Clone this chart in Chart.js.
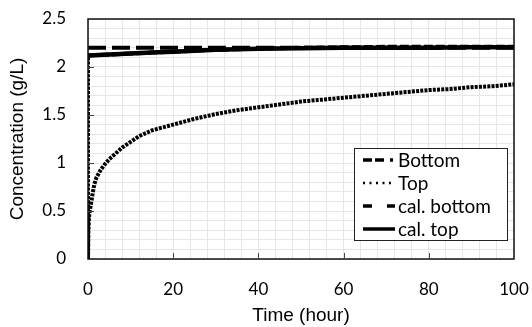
<!DOCTYPE html>
<html>
<head>
<meta charset="utf-8">
<script src="https://cdn.jsdelivr.net/npm/chart.js@4"></script>
<style>
  html, body { margin: 0; padding: 0; background: #fff; }
  #wrap { width: 532px; height: 327px; }
</style>
</head>
<body>
<div id="wrap"><canvas id="chart" width="532" height="327"></canvas></div>
<script>
// measured top concentration (dotted)
const topHours = [0, 0, 0.05, 0.1, 0.2, 0.3, 0.5, 0.8, 1, 1.5, 2, 3, 4, 5, 6, 8, 10, 12, 15, 20, 25, 30, 35, 40, 45, 50, 55, 60, 65, 70, 75, 80, 85, 90, 95, 100];
const topValues = [2.1, 0, 0.15, 0.3, 0.4, 0.47, 0.52, 0.6, 0.66, 0.78, 0.85, 0.93, 0.99, 1.04, 1.08, 1.16, 1.22, 1.28, 1.34, 1.40, 1.46, 1.51, 1.55, 1.58, 1.61, 1.64, 1.66, 1.68, 1.70, 1.72, 1.74, 1.76, 1.77, 1.79, 1.80, 1.82];

// measured bottom concentration
const bottomHours = [0, 5, 10, 15, 20, 25, 30, 35, 40, 50, 60, 70, 80, 90, 100];
const bottomValues = [2.12, 2.13, 2.14, 2.15, 2.16, 2.17, 2.18, 2.185, 2.19, 2.2, 2.205, 2.21, 2.21, 2.21, 2.21];

// calculated values
const calHours = [0, 100];
const calBottomValues = [2.2, 2.2];
const calTopHours = [0, 5, 10, 15, 20, 25, 30, 35, 40, 50, 60, 70, 80, 90, 100];
const calTopValues = [2.12, 2.13, 2.14, 2.15, 2.16, 2.17, 2.18, 2.185, 2.19, 2.195, 2.2, 2.2, 2.2, 2.205, 2.205];

const xMajor = [0, 20, 40, 60, 80, 100];
const yMajor = [0, 0.5, 1, 1.5, 2, 2.5];

const toPoints = (xs, ys) => xs.map((x, i) => ({ x: x, y: ys[i] }));

const tickFont = { family: "Lato", size: 17 };
const titleFont = { family: "'Liberation Sans'", size: 19 };

const legendItems = [
  { label: "Bottom", dash: [9, 3, 9, 6, 3, 40], width: 3.5 },
  { label: "Top", dash: [2, 4.5], width: 2.5 },
  { label: "cal. bottom", dash: [9, 15], width: 3.5 },
  { label: "cal. top", dash: [], width: 3.5 }
];

// no extra room for overflowing tick labels: plot box is set by layout padding
const noOverflow = s => {
  s.paddingTop = 0; s.paddingBottom = 0; s.paddingLeft = 0; s.paddingRight = 0;
};

// frame, inside tick marks and legend box
const extras = {
  id: "extras",
  afterDatasetsDraw(chart) {
    const ctx = chart.ctx;
    const a = chart.chartArea;
    const xs = chart.scales.x, ys = chart.scales.y;
    ctx.save();
    ctx.strokeStyle = "#111";
    ctx.lineWidth = 1.5;
    ctx.strokeRect(a.left, a.top, a.right - a.left, a.bottom - a.top);
    ctx.lineWidth = 1;
    ctx.strokeStyle = "#444";
    xMajor.slice(1, -1).forEach(v => {
      const px = Math.round(xs.getPixelForValue(v)) + 0.5;
      ctx.beginPath(); ctx.moveTo(px, a.bottom); ctx.lineTo(px, a.bottom - 6); ctx.stroke();
    });
    yMajor.slice(1, -1).forEach(v => {
      const py = Math.round(ys.getPixelForValue(v)) + 0.5;
      ctx.beginPath(); ctx.moveTo(a.left, py); ctx.lineTo(a.left + 6, py); ctx.stroke();
    });

    // legend
    const bx = 354, by = 148, bw = 153, bh = 92;
    ctx.fillStyle = "#fff";
    ctx.fillRect(bx, by, bw, bh);
    ctx.strokeStyle = "#222";
    ctx.lineWidth = 1;
    ctx.strokeRect(bx + 0.5, by + 0.5, bw, bh);
    ctx.font = "19px Lato";
    ctx.textBaseline = "middle";
    legendItems.forEach((it, i) => {
      const cy = 160 + i * 23;
      ctx.strokeStyle = "#000";
      ctx.lineWidth = it.width;
      ctx.setLineDash(it.dash);
      ctx.beginPath(); ctx.moveTo(363, cy); ctx.lineTo(395, cy); ctx.stroke();
      ctx.setLineDash([]);
      ctx.fillStyle = "#000";
      ctx.fillText(it.label, 398, cy + 1);
    });
    ctx.restore();
  }
};

new Chart(document.getElementById("chart"), {
  type: "line",
  data: {
    datasets: [
      { label: "Bottom", data: toPoints(bottomHours, bottomValues), borderColor: "#000", borderWidth: 4, borderDash: [9, 3], pointRadius: 0 },
      { label: "Top", data: toPoints(topHours, topValues), borderColor: "#000", borderWidth: 4, borderDash: [3, 1.2], pointRadius: 0 },
      { label: "cal. bottom", data: toPoints(calHours, calBottomValues), borderColor: "#000", borderWidth: 4, borderDash: [18, 6], pointRadius: 0 },
      { label: "cal. top", data: toPoints(calTopHours, calTopValues), borderColor: "#000", borderWidth: 4.5, pointRadius: 0 }
    ]
  },
  options: {
    responsive: false,
    animation: false,
    layout: { padding: { top: 19, right: 18, left: 0, bottom: 0 } },
    plugins: { legend: { display: false }, tooltip: { enabled: false } },
    scales: {
      x: {
        type: "linear", min: 0, max: 100,
        afterFit: s => { s.height = 68; noOverflow(s); },
        grid: { color: "#e6e6e6", lineWidth: 1, drawTicks: false },
        border: { display: false },
        ticks: {
          stepSize: 4, autoSkip: false, maxTicksLimit: 100, maxRotation: 0,
          padding: 20, color: "#000", font: tickFont,
          callback: v => (xMajor.includes(v) ? String(v) : "")
        },
        title: { display: true, text: "Time (hour)", color: "#000", font: titleFont, padding: { top: 4, bottom: 0 } }
      },
      y: {
        type: "linear", min: 0, max: 2.5,
        afterFit: s => { s.width = 88; noOverflow(s); },
        grid: { color: "#e6e6e6", lineWidth: 1, drawTicks: false },
        border: { display: false },
        ticks: {
          stepSize: 0.1, autoSkip: false, maxTicksLimit: 100,
          padding: 22, color: "#000", font: tickFont,
          callback: v => {
            const m = yMajor.find(t => Math.abs(t - v) < 1e-6);
            return m === undefined ? "" : String(m);
          }
        },
        title: { display: true, text: "Concentration (g/L)", color: "#000", font: titleFont, padding: { top: 6, bottom: 0 } }
      }
    }
  },
  plugins: [extras]
});
</script>
</body>
</html>
